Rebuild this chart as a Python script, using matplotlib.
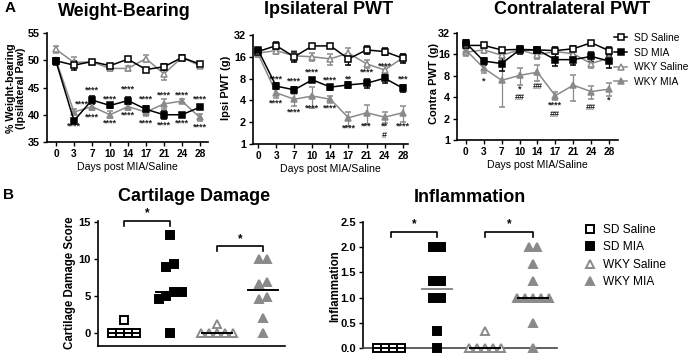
import numpy as np
import matplotlib
matplotlib.use('Agg')
import matplotlib.pyplot as plt
from matplotlib.lines import Line2D

plt.rcParams['font.family'] = ['Liberation Sans', 'DejaVu Sans']
plt.rcParams['font.weight'] = 'bold'
plt.rcParams['axes.linewidth'] = 1.2

W, H = 697, 355
GRAY = '#8a8a8a'

# ---- panel A data ----
days = ['0', '3', '7', '10', '14', '17', '21', '24', '28']
groups = ['SD Saline', 'SD MIA', 'WKY Saline', 'WKY MIA']

wb_mean = {
    'SD Saline': [49.9, 49.1, 49.75, 49.0, 50.2, 48.3, 48.8, 50.5, 49.3],
    'SD MIA': [49.8, 38.9, 42.7, 41.7, 42.6, 41.0, 40.0, 40.0, 41.4],
    'WKY Saline': [52.0, 49.6, 49.7, 48.5, 48.5, 50.3, 47.5, 50.5, 49.0],
    'WKY MIA': [50.0, 40.5, 41.5, 40.0, 41.5, 40.5, 42.0, 42.5, 39.5],
}
wb_err = {
    'SD Saline': [0.5, 0.8, 0.3, 0.4, 0.4, 0.3, 0.5, 0.4, 0.3],
    'SD MIA': [0.6, 0.3, 0.8, 0.5, 0.6, 0.6, 0.7, 0.3, 0.3],
    'WKY Saline': [0.6, 1.0, 0.3, 0.4, 0.5, 0.6, 1.2, 0.4, 0.4],
    'WKY MIA': [0.5, 0.6, 0.7, 0.6, 0.6, 0.8, 0.9, 0.3, 0.7],
}
ipsi_mean = {
    'SD Saline': [18.9, 22.8, 16.0, 22.6, 22.6, 15.0, 19.9, 18.9, 15.3],
    'SD MIA': [19.9, 6.3, 5.6, 7.7, 6.1, 6.55, 6.9, 8.1, 5.9],
    'WKY Saline': [18.0, 19.5, 16.5, 16.0, 15.0, 18.0, 12.8, 10.5, 15.5],
    'WKY MIA': [17.5, 5.1, 4.15, 4.6, 4.15, 2.3, 2.7, 2.35, 2.7],
}
ipsi_err = {
    'SD Saline': [1.5, 2.5, 2.5, 1.5, 1.5, 2.5, 2.5, 2.0, 2.0],
    'SD MIA': [1.5, 0.6, 0.6, 0.5, 0.5, 0.6, 0.9, 1.2, 0.6],
    'WKY Saline': [1.5, 2.0, 2.5, 2.0, 2.5, 3.0, 1.5, 1.5, 2.0],
    'WKY MIA': [1.5, 0.8, 0.8, 1.5, 0.5, 0.5, 0.8, 0.4, 0.7],
}
contra_mean = {
    'SD Saline': [21.4, 21.4, 18.5, 18.8, 18.5, 18.1, 19.2, 23.3, 18.1],
    'SD MIA': [23.3, 12.9, 11.9, 18.5, 18.5, 13.5, 13.5, 15.0, 12.9],
    'WKY Saline': [17.2, 18.5, 15.6, 18.5, 15.8, 17.6, 16.3, 11.9, 14.2],
    'WKY MIA': [18.5, 10.3, 6.9, 8.1, 9.0, 4.2, 5.9, 4.8, 5.2],
}
contra_err = {
    'SD Saline': [2.0, 2.0, 1.5, 2.5, 1.5, 2.0, 1.5, 1.5, 2.0],
    'SD MIA': [2.0, 1.5, 2.5, 1.5, 1.5, 2.5, 2.0, 2.5, 2.5],
    'WKY Saline': [2.0, 2.0, 2.0, 2.0, 2.0, 3.0, 2.0, 1.5, 2.0],
    'WKY MIA': [1.5, 1.5, 4.0, 2.2, 2.2, 0.6, 2.4, 1.0, 1.1],
}

# significance marks: (day index, y value, text)
wb_marks = [(1.45, 42.0, '****'), (1, 37.9, '****'), (2, 44.5, '****'), (2, 39.6, '****'),
            (3, 42.9, '****'), (3, 38.5, '****'), (4, 44.8, '****'), (4, 39.9, '****'),
            (5, 42.8, '****'), (5, 38.5, '****'), (6, 43.7, '****'), (6, 38.1, '****'),
            (7, 43.7, '****'), (7, 38.5, '****'), (8, 42.8, '****'), (8, 37.8, '****')]
ipsi_marks = [(1, 7.9, '****'), (1, 3.67, '****'), (2, 7.4, '****'), (2, 2.8, '****'),
              (3, 10.0, '****'), (3, 3.1, '****'), (4, 7.7, '****'), (4, 3.1, '****'),
              (5, 7.9, '**'), (5, 1.66, '****'), (6, 9.7, '****'), (6, 1.75, '***'),
              (7, 11.9, '****'), (7, 1.75, '**'), (7, 1.3, '#'), (8, 7.9, '***'),
              (8, 1.75, '****')]
contra_marks = [(1, 6.8, '*'), (3, 5.2, '*'), (3, 3.95, '##'), (4, 5.6, '##'),
                (5, 3.15, '****'), (5, 2.3, '##'), (7, 2.9, '##'), (8, 3.6, '*')]

# ---- panel B data ----
cart = {
    'SD Saline': [0, 0, 0, 0, 1.7],
    'SD MIA': [13.3, 8.9, 9.3, 5.5, 5.5, 5.0, 4.6, 0],
    'WKY Saline': [0, 0, 0, 0, 0, 1.2],
    'WKY MIA': [10, 10, 6.9, 6.6, 4.6, 4.9, 2.0, 0],
}
infl = {
    'SD Saline': [0, 0, 0, 0],
    'SD MIA': [2, 2, 1.33, 1.33, 1, 1, 0.33, 0],
    'WKY Saline': [0, 0, 0, 0, 0, 0.33],
    'WKY MIA': [2, 2, 1.67, 1.33, 1, 1, 1, 1, 1, 0.5, 0],
}

style = {
    'SD Saline': dict(color='black', marker='s', mfc='white', mec='black'),
    'SD MIA': dict(color='black', marker='s', mfc='black', mec='black'),
    'WKY Saline': dict(color=GRAY, marker='^', mfc='white', mec=GRAY),
    'WKY MIA': dict(color=GRAY, marker='^', mfc=GRAY, mec=GRAY),
}


def px_rect(l, t, r, b):
    return [l / W, 1 - b / H, (r - l) / W, (b - t) / H]


def fig_text(fig, x, y, s, **kw):
    fig.text(x / W, 1 - y / H, s, ha='center', va='center', **kw)


def time_course(ax, means, errs, marks, xlim):
    x = np.arange(len(days))
    for g in ['WKY Saline', 'WKY MIA', 'SD Saline', 'SD MIA']:
        st = style[g]
        ax.errorbar(x, means[g], yerr=errs[g], color=st['color'], lw=1.1,
                    marker=st['marker'], ms=5, mfc=st['mfc'], mec=st['mec'],
                    mew=1.1, capsize=2.2, elinewidth=0.9, capthick=0.9,
                    clip_on=False, zorder=3)
    for xi, yi, s in marks:
        ax.text(xi, yi, s, ha='center', va='center', fontsize=6.5,
                fontweight='bold', color='#222222')
    ax.set_xlim(*xlim)
    ax.set_xticks(x)
    ax.set_xticklabels(days, fontsize=7.3)
    ax.set_xlabel('Days post MIA/Saline', fontsize=7.6, labelpad=2)
    for sp in ['top', 'right']:
        ax.spines[sp].set_visible(False)
    ax.tick_params(direction='out', length=3, width=1, pad=2, labelsize=7.8)
    ax.tick_params(axis='x', labelsize=7.3)


def spread(vals, tol, step):
    vals = np.asarray(vals, float)
    order = np.argsort(vals)
    offs = np.zeros(len(vals))
    clusters = [[order[0]]]
    for i in order[1:]:
        if vals[i] - vals[clusters[-1][-1]] < tol:
            clusters[-1].append(i)
        else:
            clusters.append([i])
    for c in clusters:
        n = len(c)
        for k, i in enumerate(c):
            offs[i] = (k - (n - 1) / 2) * step
    return offs


def scatter_panel(ax, data, tol, step, line_colors):
    for i, g in enumerate(groups):
        st = style[g]
        v = np.asarray(data[g], float)
        xs = i + spread(v, tol, step)
        ax.plot(xs, v, ls='none', marker=st['marker'], ms=6.2, mfc=st['mfc'],
                mec=st['mec'], mew=1.4, clip_on=False, zorder=4)
        med = np.median(v)
        ax.plot([i - 0.32, i + 0.32], [med, med], color=line_colors[i], lw=1.4,
                zorder=5, clip_on=False)
    ax.set_xticks([])
    for sp in ['top', 'right']:
        ax.spines[sp].set_visible(False)
    ax.tick_params(direction='out', length=3, width=1, pad=2, labelsize=8)


def bracket(ax, x0, x1, y, drop, ystar):
    ax.plot([x0, x0, x1, x1], [y - drop, y, y, y - drop], color='black', lw=1.2,
            clip_on=False)
    ax.text((x0 + x1) / 2, ystar, '*', ha='center', va='center', fontsize=8.5,
            fontweight='bold', clip_on=False)


fig = plt.figure(figsize=(W / 100, H / 100), dpi=100)

# Weight bearing
ax1 = fig.add_axes(px_rect(47, 33, 208, 142))
time_course(ax1, wb_mean, wb_err, wb_marks, (-0.5, 8.45))
ax1.set_ylim(35, 55)
ax1.set_yticks([35, 40, 45, 50, 55])

# Ipsi PWT
ax2 = fig.add_axes(px_rect(253, 35, 408, 144))
ax2.set_yscale('log', base=2)
time_course(ax2, ipsi_mean, ipsi_err, ipsi_marks, (-0.28, 8.29))
ax2.set_ylim(1, 32)
ax2.set_yticks([1, 2, 4, 8, 16, 32])
ax2.set_yticklabels(['1', '2', '4', '8', '16', '32'])
ax2.yaxis.set_minor_locator(plt.NullLocator())

# Contra PWT
ax3 = fig.add_axes(px_rect(457, 33, 618, 140))
ax3.set_yscale('log', base=2)
time_course(ax3, contra_mean, contra_err, contra_marks, (-0.49, 8.5))
ax3.set_ylim(1, 32)
ax3.set_yticks([1, 2, 4, 8, 16, 32])
ax3.set_yticklabels(['1', '2', '4', '8', '16', '32'])
ax3.yaxis.set_minor_locator(plt.NullLocator())

fig_text(fig, 10, 8, 'A', fontsize=11)
fig_text(fig, 124, 11, 'Weight-Bearing', fontsize=13)
fig_text(fig, 329, 10, 'Ipsilateral PWT', fontsize=13)
fig_text(fig, 572, 10, 'Contralateral PWT', fontsize=13)
fig_text(fig, 16, 88, '% Weight-bearing\n(Ipsilateral Paw)', fontsize=7.7,
         rotation=90, linespacing=1.1)
fig_text(fig, 226, 88, 'Ipsi PWT (g)', fontsize=8, rotation=90)
fig_text(fig, 434, 84, 'Contra PWT (g)', fontsize=8, rotation=90)

handles_a = [Line2D([], [], color=style[g]['color'], marker=style[g]['marker'], ms=5,
                    mfc=style[g]['mfc'], mec=style[g]['mec'], mew=1.1, lw=1.1)
             for g in groups]
leg_a = fig.legend(handles_a, groups, loc='upper left',
                   bbox_to_anchor=(614 / W, 1 - 33 / H), frameon=False,
                   prop={'size': 7.4, 'weight': 'normal'}, handlelength=1.3,
                   handletextpad=0.6, labelspacing=0.45, borderaxespad=0,
                   borderpad=0)

# Cartilage damage
ax4 = fig.add_axes(px_rect(98, 221, 285, 346))
scatter_panel(ax4, cart, 1.0, 0.17, ['black', 'black', 'black', 'black'])
ax4.set_xlim(-0.56, 3.47)
ax4.set_ylim(-1.76, 15.14)
ax4.set_yticks([0, 5, 10, 15])
bracket(ax4, 0, 1, 15.1, 0.6, 16.2)
bracket(ax4, 2, 3, 11.8, 0.7, 12.7)

# Inflammation
ax5 = fig.add_axes(px_rect(363, 222, 557, 348))
scatter_panel(ax5, infl, 0.2, 0.17, ['black', GRAY, 'black', 'black'])
ax5.set_xlim(-0.54, 3.5)
ax5.set_ylim(0, 2.5)
ax5.set_yticks([0, 0.5, 1.0, 1.5, 2.0, 2.5])
ax5.set_yticklabels(['0.0', '0.5', '1.0', '1.5', '2.0', '2.5'])
ax5.spines['bottom'].set_color('#444444')
bracket(ax5, 0.05, 1, 2.31, 0.1, 2.45)
bracket(ax5, 2, 3, 2.31, 0.1, 2.45)

fig_text(fig, 8, 195, 'B', fontsize=11)
fig_text(fig, 194, 196, 'Cartilage Damage', fontsize=13)
fig_text(fig, 470, 197, 'Inflammation', fontsize=13)
fig_text(fig, 70, 283, 'Cartilage Damage Score', fontsize=8.3, rotation=90)
fig_text(fig, 335, 286, 'Inflammation', fontsize=8.3, rotation=90)

handles_b = [Line2D([], [], ls='none', marker=style[g]['marker'], ms=6.2,
                    mfc=style[g]['mfc'], mec=style[g]['mec'], mew=1.4)
             for g in groups]
leg_b = fig.legend(handles_b, groups, loc='upper left',
                   bbox_to_anchor=(584 / W, 1 - 224 / H), frameon=False,
                   prop={'size': 8.6, 'weight': 'normal'}, handlelength=1.0,
                   handletextpad=0.6, labelspacing=0.45, borderaxespad=0,
                   borderpad=0)

fig.savefig('out.png', dpi=100)
